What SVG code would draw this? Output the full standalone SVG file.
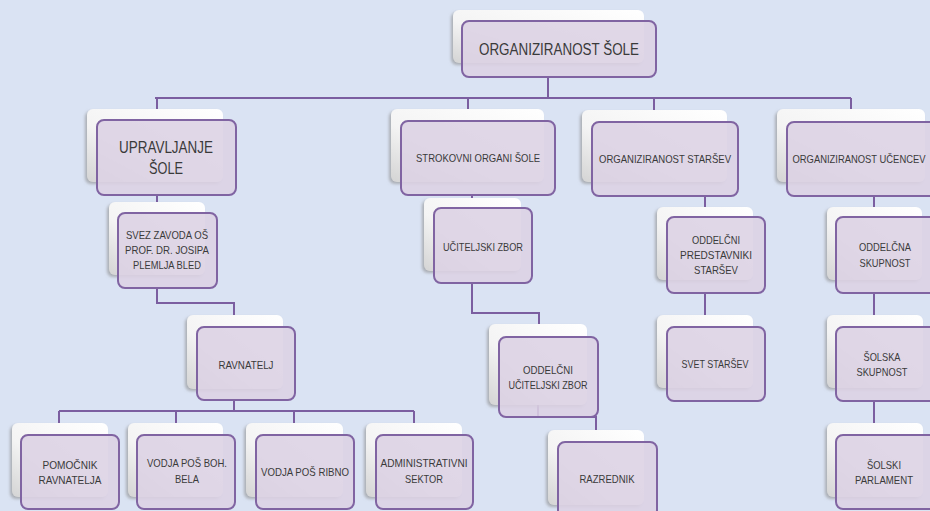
<svg xmlns="http://www.w3.org/2000/svg" width="930" height="511" viewBox="0 0 930 511">
<defs>
<linearGradient id="cg" x1="1" y1="0" x2="0" y2="1">
<stop offset="0" stop-color="#ffffff"/>
<stop offset="0.6" stop-color="#f4f4f4"/>
<stop offset="1" stop-color="#d4d4d4"/>
</linearGradient>
<filter id="sh" x="-20%" y="-20%" width="140%" height="140%">
<feDropShadow dx="-2" dy="2" stdDeviation="1.5" flood-color="#8a8a8a" flood-opacity="0.6"/>
</filter>
<style>
.card{fill:url(#cg);filter:url(#sh)}
.box{fill:#dcd2e4;fill-opacity:0.88;stroke:#8064a2;stroke-width:2}
.t{font-family:"Liberation Sans",Arial,sans-serif;fill:#3a3a3a;text-anchor:middle;font-size:11px}
.b{font-size:16px}
.c{fill:none;stroke:#7b5ea0;stroke-width:2}
</style>
</defs>
<rect width="930" height="511" fill="#dae3f3"/>
<g id="connectors" class="c">
<path d="M548,77 V98 M155,98 H851 M157,98 V109 M468,98 V109 M654,98 V110 M851,98 V109"/>
<path d="M157,195 V202 M157,288 V303 H234 V315"/>
<path d="M234,400 V411 M59,411 H414 M59,411 V423 M176,411 V423 M294,411 V423 M414,411 V423"/>
<path d="M472,195 V198 M472,283 V313 H539 V324"/>
<path d="M538,405 V417 H596 V430"/>
<path d="M705,196 V207 M705,293 V315"/>
<path d="M874,196 V207 M874,293 V315 M874,401 V423"/>
</g>
<g id="n-top"><rect class="card" x="453" y="10" width="191" height="53" rx="6"/><rect class="box" x="462" y="21" width="194" height="56" rx="7"/><text class="t b" x="559" y="55" textLength="160" lengthAdjust="spacingAndGlyphs">ORGANIZIRANOST ŠOLE</text></g>
<g id="n-upravljanje"><rect class="card" x="87" y="109" width="136" height="73" rx="6"/><rect class="box" x="97" y="120" width="139" height="75" rx="7"/><text class="t b" x="166" y="153" textLength="94" lengthAdjust="spacingAndGlyphs">UPRAVLJANJE</text><text class="t b" x="166" y="174" textLength="34" lengthAdjust="spacingAndGlyphs">ŠOLE</text></g>
<g id="n-svez"><rect class="card" x="109" y="202" width="96" height="73" rx="6"/><rect class="box" x="118" y="213" width="99" height="75" rx="7"/><text class="t" x="167" y="239" textLength="82" lengthAdjust="spacingAndGlyphs">SVEZ ZAVODA OŠ</text><text class="t" x="167" y="254" textLength="84" lengthAdjust="spacingAndGlyphs">PROF. DR. JOSIPA</text><text class="t" x="167" y="269" textLength="68" lengthAdjust="spacingAndGlyphs">PLEMLJA BLED</text></g>
<g id="n-ravnatelj"><rect class="card" x="187" y="315" width="96" height="74" rx="6"/><rect class="box" x="197" y="327" width="98" height="73" rx="7"/><text class="t" x="246" y="369" textLength="55" lengthAdjust="spacingAndGlyphs">RAVNATELJ</text></g>
<g id="n-pomocnik"><rect class="card" x="12" y="423" width="96" height="74" rx="6"/><rect class="box" x="21" y="435" width="98" height="74" rx="7"/><text class="t" x="70" y="469" textLength="55" lengthAdjust="spacingAndGlyphs">POMOČNIK</text><text class="t" x="70" y="484" textLength="63" lengthAdjust="spacingAndGlyphs">RAVNATELJA</text></g>
<g id="n-boh"><rect class="card" x="128" y="423" width="95" height="74" rx="6"/><rect class="box" x="137" y="435" width="98" height="74" rx="7"/><text class="t" x="187" y="467" textLength="80" lengthAdjust="spacingAndGlyphs">VODJA POŠ BOH.</text><text class="t" x="187" y="483" textLength="24" lengthAdjust="spacingAndGlyphs">BELA</text></g>
<g id="n-ribno"><rect class="card" x="246" y="423" width="97" height="74" rx="6"/><rect class="box" x="256" y="435" width="98" height="74" rx="7"/><text class="t" x="305" y="476" textLength="88" lengthAdjust="spacingAndGlyphs">VODJA POŠ RIBNO</text></g>
<g id="n-admin"><rect class="card" x="366" y="423" width="96" height="74" rx="6"/><rect class="box" x="376" y="435" width="97" height="74" rx="7"/><text class="t" x="424" y="467" textLength="87" lengthAdjust="spacingAndGlyphs">ADMINISTRATIVNI</text><text class="t" x="424" y="483" textLength="38" lengthAdjust="spacingAndGlyphs">SEKTOR</text></g>
<g id="n-strokovni"><rect class="card" x="391" y="109" width="153" height="73" rx="6"/><rect class="box" x="401" y="121" width="154" height="74" rx="7"/><text class="t" x="478" y="162" textLength="124" lengthAdjust="spacingAndGlyphs">STROKOVNI ORGANI ŠOLE</text></g>
<g id="n-uciteljski"><rect class="card" x="424" y="198" width="97" height="73" rx="6"/><rect class="box" x="434" y="208" width="98" height="75" rx="7"/><text class="t" x="483" y="251" textLength="80" lengthAdjust="spacingAndGlyphs">UČITELJSKI ZBOR</text></g>
<g id="n-oddelcni-uz"><rect class="card" x="489" y="324" width="98" height="81" rx="6"/><rect class="box" x="499" y="337" width="99" height="80" rx="7"/><text class="t" x="548" y="374" textLength="50" lengthAdjust="spacingAndGlyphs">ODDELČNI</text><text class="t" x="548" y="389" textLength="79" lengthAdjust="spacingAndGlyphs">UČITELJSKI ZBOR</text></g>
<g id="n-razrednik"><rect class="card" x="548" y="430" width="96" height="75" rx="6"/><rect class="box" x="558" y="442" width="99" height="75" rx="7"/><text class="t" x="607" y="483" textLength="55" lengthAdjust="spacingAndGlyphs">RAZREDNIK</text></g>
<g id="n-starsev"><rect class="card" x="582" y="110" width="145" height="72" rx="6"/><rect class="box" x="592" y="122" width="146" height="74" rx="7"/><text class="t" x="665" y="163" textLength="132" lengthAdjust="spacingAndGlyphs">ORGANIZIRANOST STARŠEV</text></g>
<g id="n-predstavniki"><rect class="card" x="657" y="207" width="96" height="73" rx="6"/><rect class="box" x="667" y="217" width="98" height="76" rx="7"/><text class="t" x="716" y="244" textLength="48" lengthAdjust="spacingAndGlyphs">ODDELČNI</text><text class="t" x="716" y="259" textLength="72" lengthAdjust="spacingAndGlyphs">PREDSTAVNIKI</text><text class="t" x="716" y="274" textLength="44" lengthAdjust="spacingAndGlyphs">STARŠEV</text></g>
<g id="n-svet"><rect class="card" x="657" y="315" width="96" height="73" rx="6"/><rect class="box" x="667" y="327" width="98" height="74" rx="7"/><text class="t" x="715" y="368" textLength="67" lengthAdjust="spacingAndGlyphs">SVET STARŠEV</text></g>
<g id="n-ucencev"><rect class="card" x="777" y="109" width="148" height="73" rx="6"/><rect class="box" x="787" y="122" width="150" height="74" rx="7"/><text class="t" x="859" y="163" textLength="133" lengthAdjust="spacingAndGlyphs">ORGANIZIRANOST UČENCEV</text></g>
<g id="n-oddelcna"><rect class="card" x="827" y="207" width="95" height="73" rx="6"/><rect class="box" x="836" y="217" width="100" height="76" rx="7"/><text class="t" x="885" y="251" textLength="52" lengthAdjust="spacingAndGlyphs">ODDELČNA</text><text class="t" x="885" y="267" textLength="51" lengthAdjust="spacingAndGlyphs">SKUPNOST</text></g>
<g id="n-solska"><rect class="card" x="827" y="315" width="96" height="73" rx="6"/><rect class="box" x="836" y="327" width="100" height="74" rx="7"/><text class="t" x="882" y="361" textLength="37" lengthAdjust="spacingAndGlyphs">ŠOLSKA</text><text class="t" x="882" y="376" textLength="51" lengthAdjust="spacingAndGlyphs">SKUPNOST</text></g>
<g id="n-parlament"><rect class="card" x="827" y="423" width="96" height="74" rx="6"/><rect class="box" x="836" y="435" width="100" height="74" rx="7"/><text class="t" x="884" y="469" textLength="34" lengthAdjust="spacingAndGlyphs">ŠOLSKI</text><text class="t" x="884" y="484" textLength="58" lengthAdjust="spacingAndGlyphs">PARLAMENT</text></g>
</svg>
